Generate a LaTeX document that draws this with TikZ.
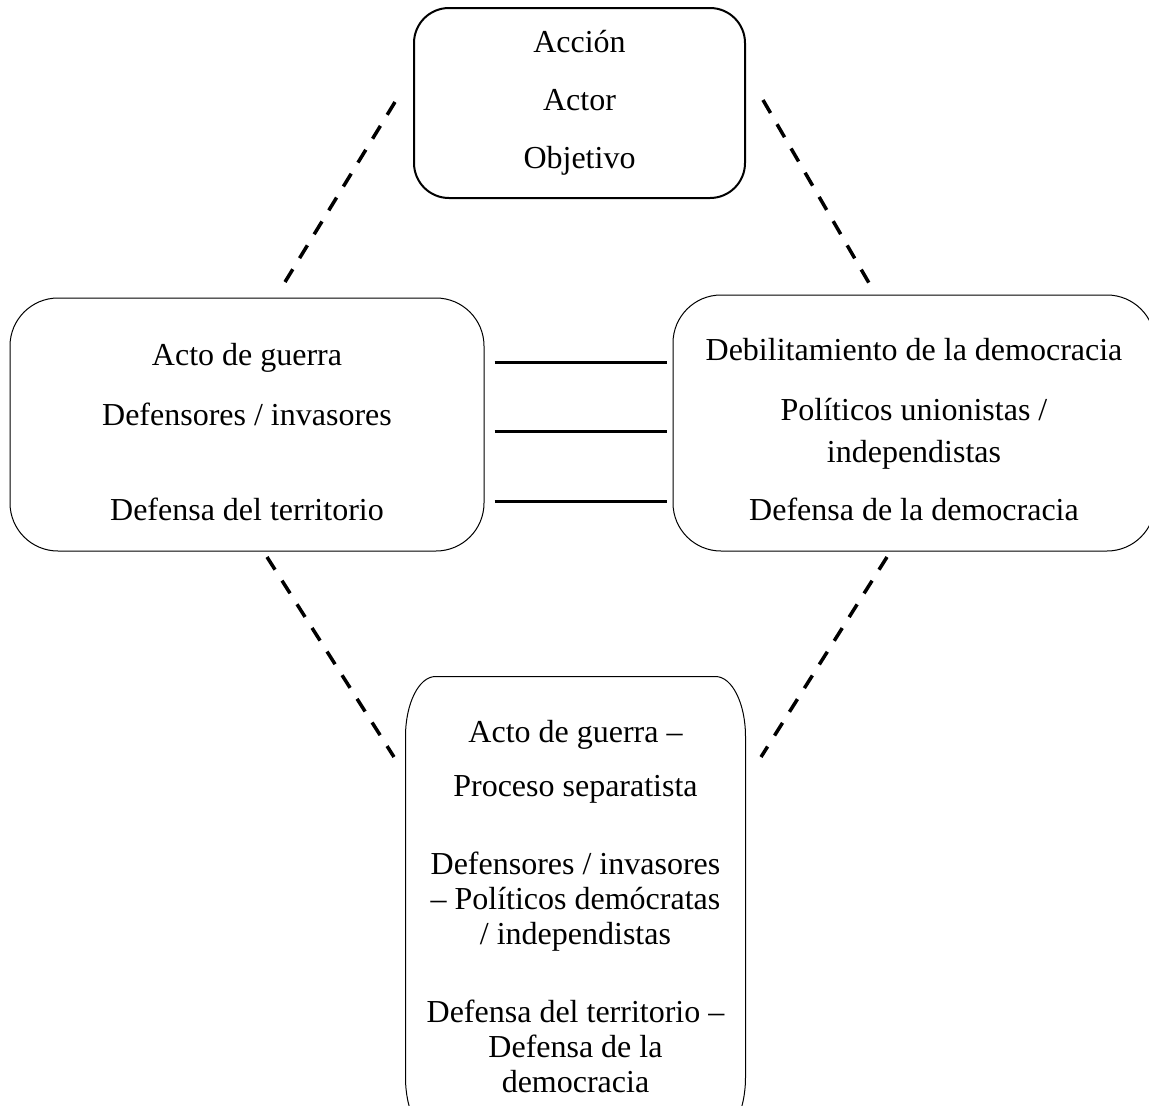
\documentclass[tikz,border=0pt]{standalone}
\usepackage{fontspec}
\setmainfont{Liberation Serif}
\usetikzlibrary{positioning}

\tikzset{
  box/.style={draw, rounded corners=48pt, align=center, line width=1pt, font=\fontsize{32}{35}\selectfont},
  dashline/.style={line width=3.5pt, dash pattern=on 15pt off 13pt},
  solidline/.style={line width=3pt}
}

\begin{document}
\begin{tikzpicture}[x=1pt, y=-1pt]
\useasboundingbox (0,0) rectangle (1149,1106);
\clip (0,0) rectangle (1149,1106);
\node[box, line width=2pt, rounded corners=35pt, minimum width=331pt, minimum height=190pt] (accion) at (579.5,103) {Acción\\[23pt]Actor\\[23pt]Objetivo};
\node[box, minimum width=474pt, minimum height=253pt] (guerra) at (247,424.5) {\rule{0pt}{38pt}Acto de guerra\\[25pt]Defensores / invasores\\[60pt]Defensa del territorio};
\node[box, minimum width=482pt, minimum height=256pt] (democracia) at (914,423) {\rule{0pt}{36pt}Debilitamiento de la democracia\\[25pt]Políticos unionistas /\\[7pt]independistas\\[23pt]Defensa de la democracia};
\node[box, draw=none, minimum width=339pt, minimum height=460pt] (separatista) at (575.5,907) {Acto de guerra –\\[19pt]Proceso separatista\\[43pt]Defensores / invasores\\– Políticos demócratas\\/ independistas\\[43pt]Defensa del territorio –\\Defensa de la\\democracia};
% outline of the lower box, flatter corners
\draw[line width=1pt] ([yshift=-60pt]separatista.north west) arc[start angle=180, end angle=90, x radius=30pt, y radius=60pt]
  -- ([xshift=-30pt]separatista.north east) arc[start angle=90, end angle=0, x radius=30pt, y radius=60pt]
  -- ([yshift=60pt]separatista.south east) arc[start angle=0, end angle=-90, x radius=30pt, y radius=60pt]
  -- ([xshift=30pt]separatista.south west) arc[start angle=270, end angle=180, x radius=30pt, y radius=60pt] -- cycle;

\coordinate (tl1) at (395,102);
\coordinate (tl2) at (285,282);
\coordinate (tr1) at (763,100);
\coordinate (tr2) at (869,283);
\coordinate (bl1) at (267,557);
\coordinate (bl2) at (394,757);
\coordinate (br1) at (887,557);
\coordinate (br2) at (761,757);
\draw[dashline] (tl1) -- (tl2);
\draw[dashline] (tr1) -- (tr2);
\draw[dashline] (bl1) -- (bl2);
\draw[dashline] (br1) -- (br2);

\draw[solidline, shorten <=10pt, shorten >=6pt] (guerra.east |- 0,362) -- (democracia.west |- 0,362);
\draw[solidline, shorten <=10pt, shorten >=6pt] (guerra.east |- 0,431) -- (democracia.west |- 0,431);
\draw[solidline, shorten <=10pt, shorten >=6pt] (guerra.east |- 0,501) -- (democracia.west |- 0,501);
\end{tikzpicture}
\end{document}
